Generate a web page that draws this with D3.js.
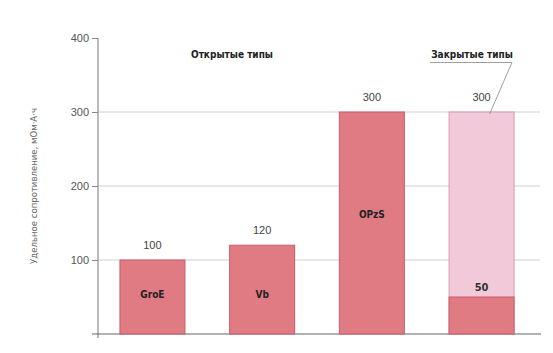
<!DOCTYPE html>
<html>
<head>
<meta charset="utf-8">
<script src="https://cdn.jsdelivr.net/npm/d3@7"></script>
<style>
  body { margin: 0; background: #fff; }
  svg { display: block; }
</style>
</head>
<body>
<div id="chart"></div>
<script>
// Данные
const categories = ['GroE', 'Vb', 'OPzS', 'Closed'];
const barLabels = ['GroE', 'Vb', 'OPzS', ''];
const totalValues = [100, 120, 300, 300];
const innerValues = [null, null, null, 50];
const yTicks = [100, 200, 300, 400];

const width = 553, height = 353;

const svg = d3.select('#chart')
    .append('svg')
    .attr('width', width)
    .attr('height', height);

const xScale = d3.scaleBand()
    .domain(categories)
    .range([98, 536])
    .paddingInner(0.4075)
    .paddingOuter(0.2);

const yScale = d3.scaleLinear()
    .domain([0, 400])
    .range([334, 38]);

const mainFill = '#e07b83';
const mainStroke = '#c95a6a';
const lightFill = '#f1c9d9';
const lightStroke = '#d99ab4';

// Сетка
svg.append('g')
    .selectAll('line')
    .data([100, 200, 300])
    .join('line')
    .attr('x1', 98)
    .attr('x2', 540)
    .attr('y1', d => yScale(d))
    .attr('y2', d => yScale(d))
    .style('stroke', '#cfcfcf')
    .style('stroke-width', 1);

// Ось Y
svg.append('g')
    .attr('transform', 'translate(98,0)')
    .call(d3.axisLeft(yScale).tickValues(yTicks).tickSize(6).tickPadding(3))
    .call(g => g.select('.domain').attr('d', `M0,${yScale(400)}V${yScale(0) + 4}`).style('stroke', '#777'))
    .call(g => g.selectAll('.tick line').style('stroke', '#888'))
    .call(g => g.selectAll('.tick text')
        .style('font-family', 'Liberation Sans, Arial, sans-serif')
        .style('font-size', '11px')
        .style('fill', '#555'));

// Ось X
svg.append('line')
    .attr('x1', 92)
    .attr('x2', 541)
    .attr('y1', yScale(0))
    .attr('y2', yScale(0))
    .style('stroke', '#666')
    .style('stroke-width', 1.2);

// Столбцы
const barData = categories.map((c, i) => ({
    key: c, label: barLabels[i], value: totalValues[i], inner: innerValues[i]
}));

svg.append('g')
    .selectAll('rect')
    .data(barData)
    .join('rect')
    .attr('x', d => xScale(d.key))
    .attr('y', d => yScale(d.value))
    .attr('width', xScale.bandwidth())
    .attr('height', d => yScale(0) - yScale(d.value))
    .style('fill', d => d.inner != null ? lightFill : mainFill)
    .style('stroke', d => d.inner != null ? lightStroke : mainStroke)
    .style('stroke-width', 1);

svg.append('g')
    .selectAll('rect')
    .data(barData.filter(d => d.inner != null))
    .join('rect')
    .attr('x', d => xScale(d.key))
    .attr('y', d => yScale(d.inner))
    .attr('width', xScale.bandwidth())
    .attr('height', d => yScale(0) - yScale(d.inner))
    .style('fill', mainFill)
    .style('stroke', mainStroke)
    .style('stroke-width', 1);

// Значения над столбцами
svg.append('g')
    .selectAll('text')
    .data(barData)
    .join('text')
    .attr('x', d => xScale(d.key) + xScale.bandwidth() / 2)
    .attr('y', d => yScale(d.value) - 11)
    .attr('text-anchor', 'middle')
    .style('font-family', 'Liberation Sans, Arial, sans-serif')
    .style('font-size', '11px')
    .style('fill', '#444')
    .text(d => d.value);

// Подписи внутри столбцов
svg.append('g')
    .selectAll('text')
    .data(barData.filter(d => d.label))
    .join('text')
    .attr('x', d => xScale(d.key) + xScale.bandwidth() / 2)
    .attr('y', d => d.value > 200 ? yScale(d.value) + 106 : yScale(0) - 36)
    .attr('text-anchor', 'middle')
    .style('font-family', 'DejaVu Sans Condensed, DejaVu Sans, sans-serif')
    .style('font-size', '10px')
    .style('font-weight', 'bold')
    .style('fill', '#222')
    .text(d => d.label);

svg.append('g')
    .selectAll('text')
    .data(barData.filter(d => d.inner != null))
    .join('text')
    .attr('x', d => xScale(d.key) + xScale.bandwidth() / 2)
    .attr('y', d => yScale(d.inner) - 6)
    .attr('text-anchor', 'middle')
    .style('font-family', 'DejaVu Sans Condensed, DejaVu Sans, sans-serif')
    .style('font-size', '11px')
    .style('font-weight', 'bold')
    .style('fill', '#333')
    .text(d => d.inner);

// Заголовки групп
const headFont = 'DejaVu Sans Condensed, DejaVu Sans, sans-serif';
svg.append('text')
    .attr('x', 232)
    .attr('y', 58)
    .attr('text-anchor', 'middle')
    .style('font-family', headFont)
    .style('font-size', '10px')
    .style('font-weight', 'bold')
    .style('fill', '#222')
    .text('Открытые типы');

const closedX = xScale('Closed') + xScale.bandwidth() / 2;
svg.append('text')
    .attr('x', 472)
    .attr('y', 58)
    .attr('text-anchor', 'middle')
    .style('font-family', headFont)
    .style('font-size', '10px')
    .style('font-weight', 'bold')
    .style('fill', '#222')
    .text('Закрытые типы');

svg.append('path')
    .attr('d', `M430,62.5H512L${closedX + 8},${yScale(300) + 2}`)
    .style('fill', 'none')
    .style('stroke', '#888')
    .style('stroke-width', 0.8);

// Подпись оси Y
svg.append('text')
    .attr('transform', `translate(37,${yScale(200)}) rotate(-90)`)
    .attr('text-anchor', 'middle')
    .style('font-family', 'DejaVu Sans Condensed, DejaVu Sans, sans-serif')
    .style('font-stretch', 'condensed')
    .style('font-size', '9.5px')
    .style('fill', '#666')
    .text('Удельное сопротивление, мОм·А·ч');
</script>
</body>
</html>
